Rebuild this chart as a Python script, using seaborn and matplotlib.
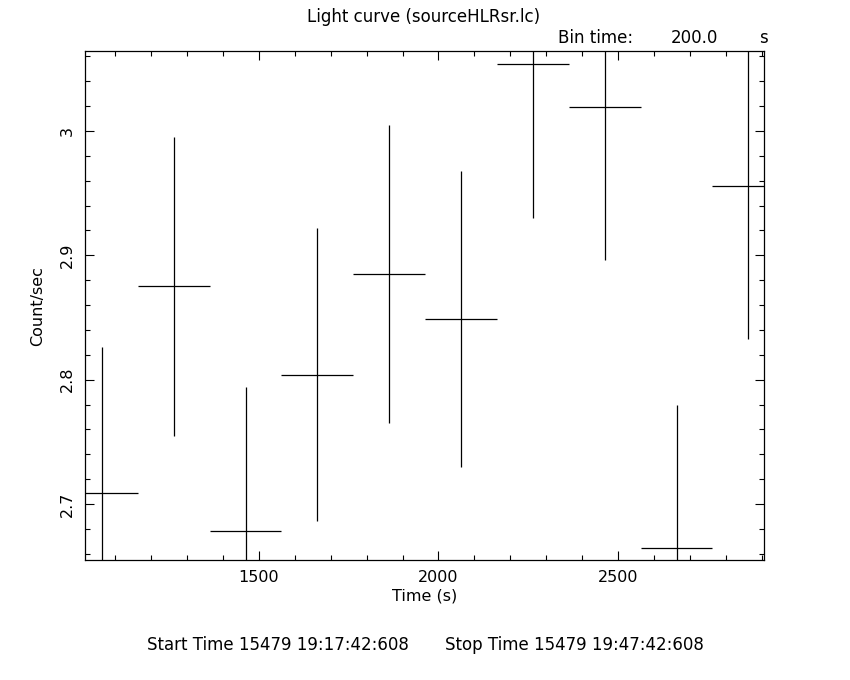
import numpy as np
import matplotlib
matplotlib.use("Agg")
import matplotlib.pyplot as plt
from matplotlib.ticker import MultipleLocator, FixedFormatter, FixedLocator
import seaborn as sns

# light curve bins (s), rates and 1-sigma errors
time = [1063, 1263, 1463, 1663, 1863, 2063, 2263, 2463, 2663, 2863]
rate = [2.709, 2.875, 2.678, 2.804, 2.885, 2.849, 3.054, 3.019, 2.665, 2.956]
rate_err = [0.117, 0.120, 0.116, 0.118, 0.120, 0.119, 0.124, 0.123, 0.115, 0.123]
half_bin = [100] * len(time)

ytick_vals = [2.7, 2.8, 2.9, 3.0]
ytick_labels = ["2.7", "2.8", "2.9", "3"]
xtick_vals = [1500, 2000, 2500]
xtick_labels = ["1500", "2000", "2500"]

sns.set_style("ticks")
plt.rcParams['font.family'] = ['DejaVu Sans']
plt.rcParams['text.color'] = 'black'
plt.rcParams['axes.labelcolor'] = 'black'
plt.rcParams['xtick.color'] = 'black'
plt.rcParams['ytick.color'] = 'black'

W, H = 850, 680
fig = plt.figure(figsize=(W / 100, H / 100), dpi=100)
ax = fig.add_axes([85 / W, 1 - 560 / H, (763.5 - 85) / W, (560 - 51.3) / H])

ax.errorbar(time, rate, xerr=half_bin, yerr=rate_err, fmt='none',
            ecolor='black', elinewidth=0.9, capsize=0)

ax.set_xlim(1016, 2905)
ax.set_ylim(2.655, 3.0641)

ax.xaxis.set_major_locator(FixedLocator(xtick_vals))
ax.xaxis.set_major_formatter(FixedFormatter(xtick_labels))
ax.xaxis.set_minor_locator(MultipleLocator(100))
ax.yaxis.set_major_locator(FixedLocator(ytick_vals))
ax.yaxis.set_major_formatter(FixedFormatter(ytick_labels))
ax.yaxis.set_minor_locator(MultipleLocator(0.02))

ax.tick_params(which='both', direction='in', top=True, right=True,
               labeltop=False, labelright=False, color='black',
               labelcolor='black', width=0.8)
ax.tick_params(which='major', length=6.5, labelsize=11.5, pad=7)
ax.tick_params(which='minor', length=3.6)
for lab in ax.get_yticklabels():
    lab.set_rotation(90)
    lab.set_va('center')

for s in ax.spines.values():
    s.set_linewidth(0.9)
    s.set_color('black')

ax.set_xlabel("Time (s)", fontsize=11.5, labelpad=3, color='black')
ax.set_ylabel("Count/sec", fontsize=11.5, labelpad=11, color='black')

def ftext(x, y, s, **kw):
    fig.text(x / W, 1 - y / H, s, fontsize=12, va='center', color='black', **kw)

ftext(424, 17, "Light curve (sourceHLRsr.lc)", ha='center')
ftext(558, 38, "Bin time:", ha='left')
ftext(671, 38, "200.0", ha='left')
ftext(763, 38, "s", ha='center')
ftext(147, 645, "Start Time 15479 19:17:42:608", ha='left')
ftext(445, 645, "Stop Time 15479 19:47:42:608", ha='left')

fig.savefig("out.png", dpi=100)
